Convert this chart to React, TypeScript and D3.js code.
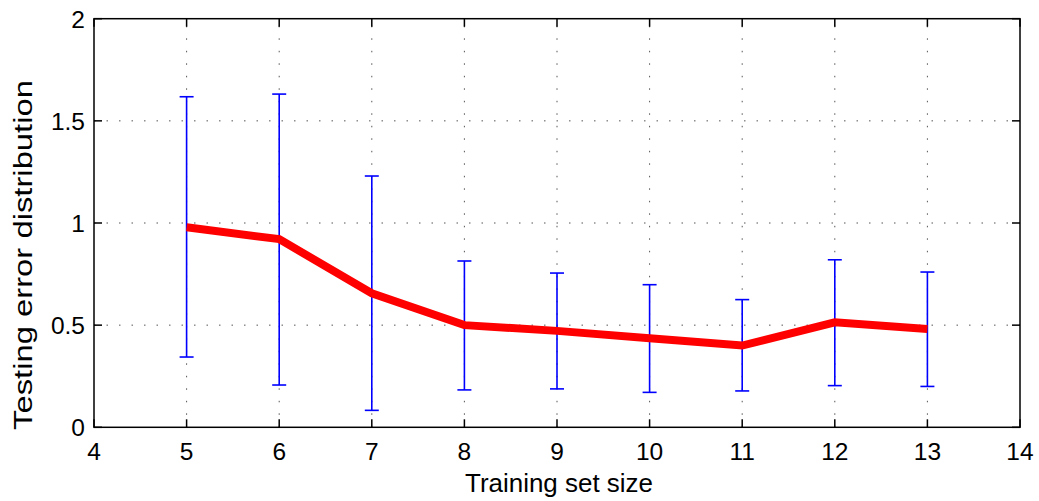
import * as React from "react"
import * as d3 from "d3"

const sizes = [5, 6, 7, 8, 9, 10, 11, 12, 13]
const meanError = [0.979, 0.921, 0.656, 0.5, 0.472, 0.436, 0.4, 0.514, 0.481]
const upperError = [1.618, 1.631, 1.23, 0.814, 0.755, 0.698, 0.625, 0.82, 0.76]
const lowerError = [0.344, 0.207, 0.083, 0.183, 0.188, 0.171, 0.178, 0.204, 0.2]
const xTicks = [4, 5, 6, 7, 8, 9, 10, 11, 12, 13, 14]
const yTicks = [0, 0.5, 1, 1.5, 2]

const width = 1039
const height = 501
const margin = { top: 18.7, right: 19, bottom: 73.7, left: 94 }

export default function App() {
  const x = d3.scaleLinear().domain([4, 14]).range([margin.left, width - margin.right])
  const y = d3.scaleLinear().domain([0, 2]).range([height - margin.bottom, margin.top])
  const [x0, x1] = x.range()
  const [y0, y1] = y.range()

  const line = d3.line<number>()
    .x((_, i) => x(sizes[i]))
    .y(d => y(d))

  const font = "'Liberation Sans', Arial, Helvetica, sans-serif"
  const tickLen = 8
  const capHalf = 7

  return (
    <svg width={width} height={height} style={{ position: "absolute", left: 0, top: 0 }} fontFamily={font}>
      <rect x={0} y={0} width={width} height={height} fill="#fff" />

      {/* grid */}
      <g stroke="#555" strokeWidth={1} strokeDasharray="1.5,11">
        {xTicks.slice(1, -1).map(t => (
          <line key={"gx" + t} x1={x(t)} x2={x(t)} y1={y0} y2={y1} />
        ))}
        {yTicks.slice(1, -1).map(t => (
          <line key={"gy" + t} x1={x0} x2={x1} y1={y(t)} y2={y(t)} />
        ))}
      </g>

      {/* error bars */}
      <g stroke="#0000ff" strokeWidth={1.6} fill="none">
        {sizes.map((s, i) => (
          <g key={"e" + s}>
            <line x1={x(s)} x2={x(s)} y1={y(lowerError[i])} y2={y(upperError[i])} />
            <line x1={x(s) - capHalf} x2={x(s) + capHalf} y1={y(upperError[i])} y2={y(upperError[i])} />
            <line x1={x(s) - capHalf} x2={x(s) + capHalf} y1={y(lowerError[i])} y2={y(lowerError[i])} />
          </g>
        ))}
      </g>

      {/* mean line */}
      <path d={line(meanError) ?? ""} fill="none" stroke="#ff0000" strokeWidth={8} strokeLinejoin="miter" />

      {/* frame and ticks */}
      <g stroke="#000" strokeWidth={1.5} fill="none">
        <rect x={x0} y={y1} width={x1 - x0} height={y0 - y1} />
        {xTicks.map(t => (
          <g key={"tx" + t}>
            <line x1={x(t)} x2={x(t)} y1={y0} y2={y0 - tickLen} />
            <line x1={x(t)} x2={x(t)} y1={y1} y2={y1 + tickLen} />
          </g>
        ))}
        {yTicks.map(t => (
          <g key={"ty" + t}>
            <line x1={x0} x2={x0 + tickLen} y1={y(t)} y2={y(t)} />
            <line x1={x1} x2={x1 - tickLen} y1={y(t)} y2={y(t)} />
          </g>
        ))}
      </g>

      {/* tick labels */}
      <g fontSize={24.5} fill="#000">
        {xTicks.map(t => (
          <text key={"lx" + t} x={x(t)} y={y0 + 33} textAnchor="middle">{t}</text>
        ))}
        {yTicks.map(t => (
          <text key={"ly" + t} x={x0 - 9} y={y(t)} dy="0.36em" textAnchor="end">{t}</text>
        ))}
      </g>

      {/* axis labels */}
      <text x={559} y={491.5} fontSize={25} textAnchor="middle" textLength={188} lengthAdjust="spacingAndGlyphs">
        Training set size
      </text>
      <text
        transform={`translate(31.5,255) rotate(-90)`}
        fontSize={25.5}
        textAnchor="middle"
        textLength={350}
        lengthAdjust="spacingAndGlyphs"
      >
        Testing error distribution
      </text>
    </svg>
  )
}
